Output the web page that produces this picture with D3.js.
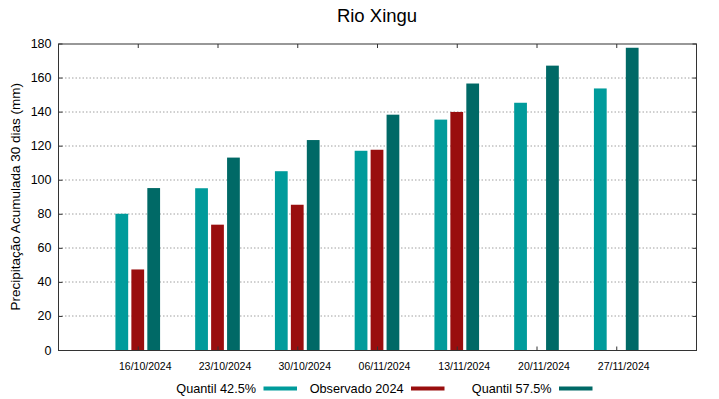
<!DOCTYPE html>
<html>
<head>
<meta charset="utf-8">
<script src="https://cdn.jsdelivr.net/npm/d3@7"></script>
<style>
  body { margin: 0; background: #fff; }
  text { font-family: "Liberation Sans", Arial, sans-serif; fill: #000; }
</style>
</head>
<body>
<script>
const title = 'Rio Xingu';
const yLabel = 'Precipitação Acumulada 30 dias (mm)';
const dates = ['16/10/2024', '23/10/2024', '30/10/2024', '06/11/2024', '13/11/2024', '20/11/2024', '27/11/2024'];
const q425 = [80, 95, 105, 117, 135.3, 145.2, 153.6];
const observed = [47.3, 73.6, 85.3, 117.6, 139.8, null, null];
const q575 = [95.1, 113, 123.3, 138.2, 156.5, 167, 177.5];
const yTicks = [0, 20, 40, 60, 80, 100, 120, 140, 160, 180];

const series = [
  { name: 'Quantil 42.5%', values: q425, color: '#009b9b', offset: -1 },
  { name: 'Observado 2024', values: observed, color: '#990e0e', offset: 0 },
  { name: 'Quantil 57.5%', values: q575, color: '#006966', offset: 1 }
];

const W = 719, H = 399;
const margin = { top: 43.5, right: 23, bottom: 49, left: 58 };
const w = W - margin.left - margin.right;
const h = H - margin.top - margin.bottom;

const svg = d3.select('body').append('svg')
  .attr('width', W).attr('height', H);

const g = svg.append('g')
  .attr('transform', 'translate(' + margin.left + ',' + margin.top + ')');

const x = d3.scaleLinear().domain([0, dates.length + 1]).range([0, w]);
const y = d3.scaleLinear().domain([0, 180]).range([h, 0]);

const barStep = 0.2;   // distance between bars in x units
const barW = 0.16;

// grid
g.append('g').selectAll('line')
  .data(yTicks.filter(t => t > 0 && t < 180))
  .enter().append('line')
  .attr('x1', 0).attr('x2', w)
  .attr('y1', d => Math.round(y(d)) + 0.5).attr('y2', d => Math.round(y(d)) + 0.5)
  .attr('stroke', '#a0a0a0').attr('stroke-width', 1)
  .attr('stroke-dasharray', '1.5,2');

// bars
series.forEach(s => {
  g.append('g').selectAll('rect')
    .data(s.values.map((v, i) => ({ v, i })).filter(d => d.v != null))
    .enter().append('rect')
    .attr('x', d => x(d.i + 1 + s.offset * barStep - barW / 2))
    .attr('width', x(barW) - x(0))
    .attr('y', d => y(d.v))
    .attr('height', d => y(0) - y(d.v))
    .attr('fill', s.color);
});

// frame
g.append('rect')
  .attr('x', 0.5).attr('y', 0.5).attr('width', w).attr('height', h)
  .attr('fill', 'none').attr('stroke', '#333').attr('stroke-width', 1);

// y axis (left) and mirrored ticks on right
const yAxis = d3.axisLeft(y).tickValues(yTicks).tickSize(-4).tickPadding(7);
const yl = g.append('g').attr('transform', 'translate(0.5,0)').call(yAxis);
yl.select('.domain').remove();
yl.selectAll('line').attr('stroke', '#333');
yl.selectAll('text').style('font-size', '12.5px');

const yr = g.append('g').attr('transform', 'translate(' + (w + 0.5) + ',0)')
  .call(d3.axisRight(y).tickValues(yTicks).tickSize(-4).tickFormat(''));
yr.select('.domain').remove();
yr.selectAll('line').attr('stroke', '#333');

// x axis (bottom) and mirrored ticks on top
const xTickVals = dates.map((d, i) => i + 1);
const xAxis = d3.axisBottom(x).tickValues(xTickVals).tickSize(-4).tickPadding(12)
  .tickFormat((d, i) => dates[i]);
const xb = g.append('g').attr('transform', 'translate(0,' + (h + 0.5) + ')').call(xAxis);
xb.select('.domain').remove();
xb.selectAll('line').attr('stroke', '#333');
xb.selectAll('text').style('font-size', '10.5px').attr('dx', 7);

const xt = g.append('g').attr('transform', 'translate(0,0.5)')
  .call(d3.axisTop(x).tickValues(xTickVals).tickSize(-4).tickFormat(''));
xt.select('.domain').remove();
xt.selectAll('line').attr('stroke', '#333');

// title
svg.append('text')
  .attr('x', margin.left + w / 2).attr('y', 22)
  .attr('text-anchor', 'middle')
  .style('font-size', '18.5px')
  .text(title);

// y label
svg.append('text')
  .attr('transform', 'translate(20,' + (margin.top + h / 2) + ') rotate(-90)')
  .attr('text-anchor', 'middle')
  .style('font-size', '13.5px')
  .text(yLabel);

// legend
const legendEnds = [256, 403.5, 551.5];
const legend = svg.append('g');
series.forEach((s, i) => {
  legend.append('text')
    .attr('x', legendEnds[i]).attr('y', 392.5)
    .attr('text-anchor', 'end')
    .style('font-size', '12.7px')
    .text(s.name);
  legend.append('rect')
    .attr('x', legendEnds[i] + 7.5).attr('y', 386.5)
    .attr('width', 33.5).attr('height', 4)
    .attr('fill', s.color);
});
</script>
</body>
</html>
